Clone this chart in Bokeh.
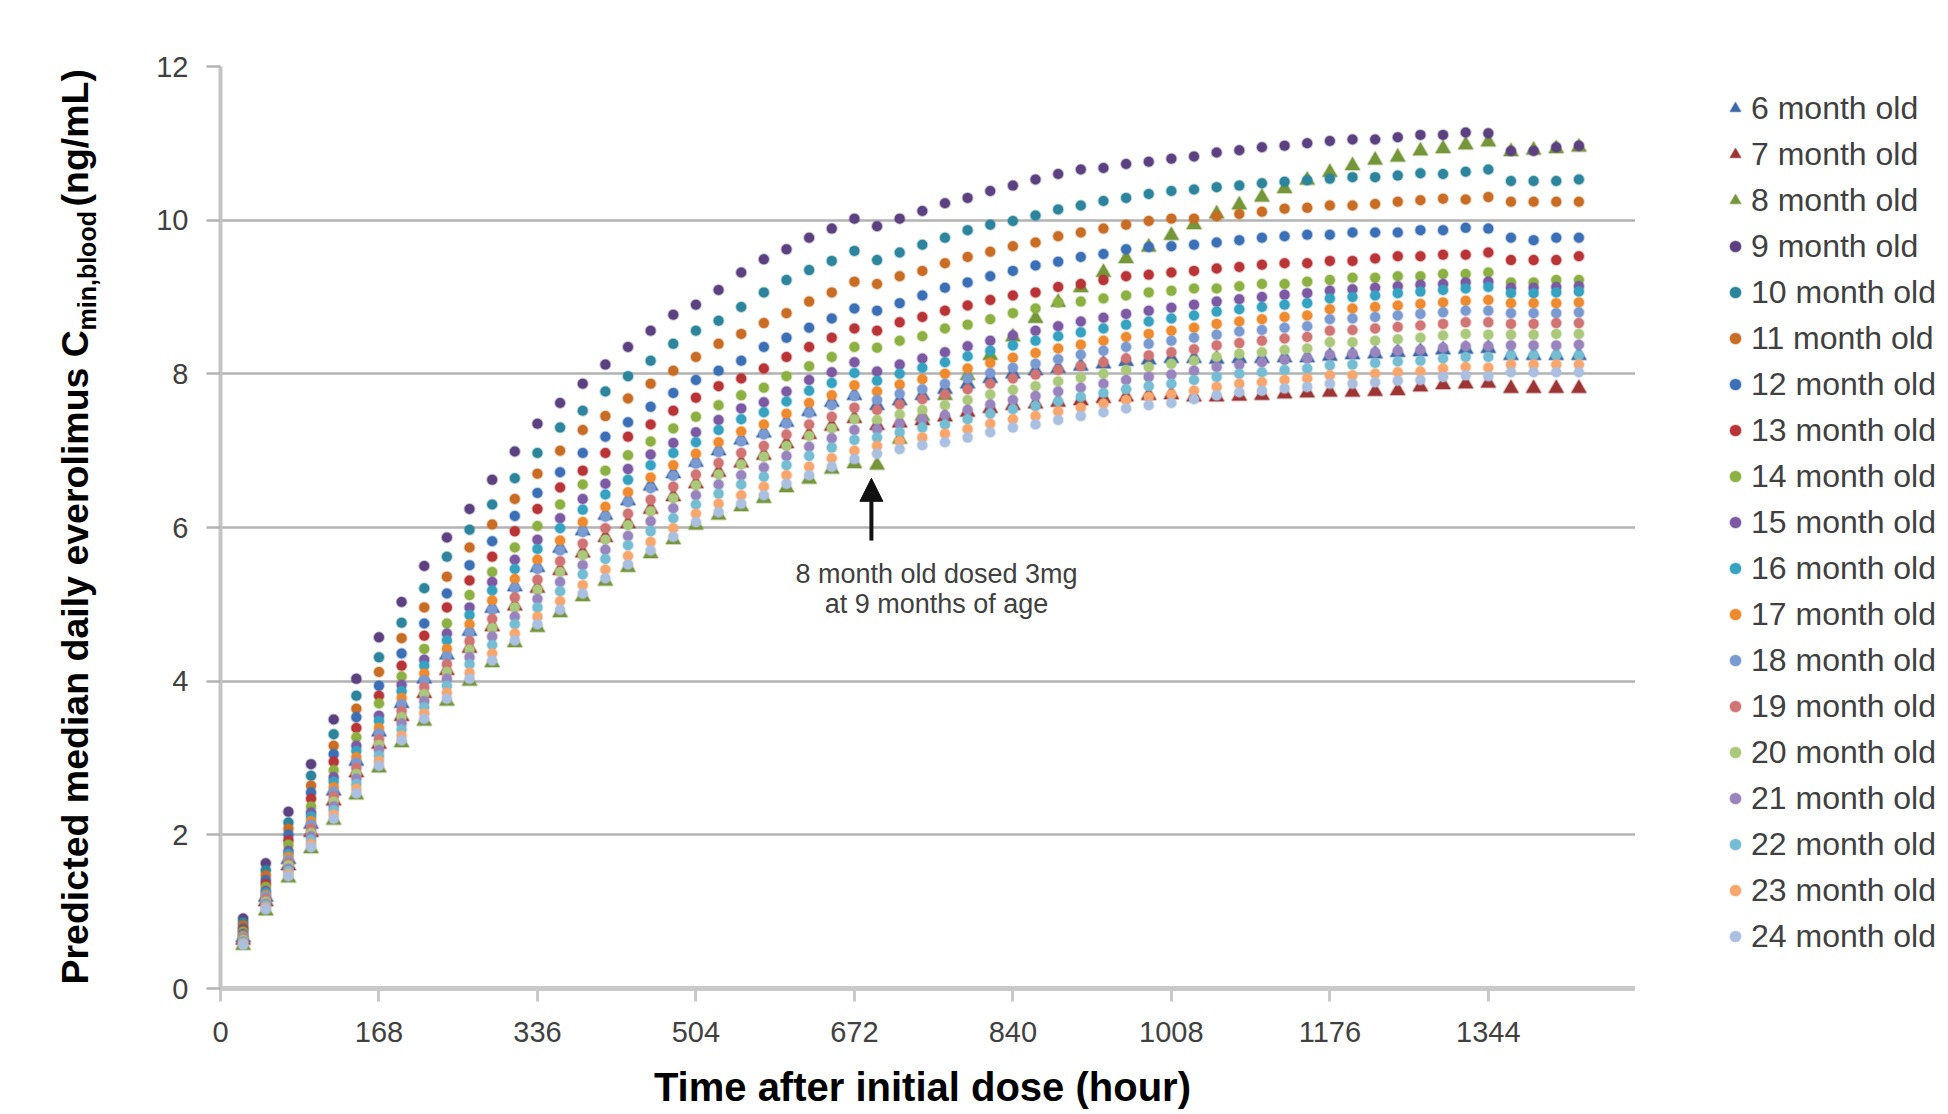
import math
from bokeh.plotting import figure
from bokeh.layouts import row
from bokeh.models import (Range1d, FixedTicker, Legend, LegendItem, Label,
                          Arrow, NormalHead)
from bokeh.core.properties import value
from bokeh.embed import file_html
from bokeh.resources import INLINE

# ---------------- data ----------------
hours = list(range(24, 1441, 24))          # daily trough samples, 24 h .. 1440 h
x_ticks = [0, 168, 336, 504, 672, 840, 1008, 1176, 1344]
y_ticks = [0, 2, 4, 6, 8, 10, 12]

m6 = [0.66, 1.19, 1.68, 2.14, 2.57, 2.96, 3.34, 3.71, 4.03, 4.34,
      4.65, 4.95, 5.23, 5.48, 5.73, 5.96, 6.16, 6.35, 6.54, 6.70,
      6.85, 7.00, 7.14, 7.23, 7.37, 7.51, 7.63, 7.72,
      7.59, 7.65, 7.72, 7.80, 7.87, 7.94, 8.00, 8.04, 8.07, 8.10,
      8.13, 8.16, 8.18, 8.20, 8.20, 8.19, 8.20, 8.20, 8.21, 8.21,
      8.23, 8.25, 8.26, 8.28, 8.29, 8.31, 8.32, 8.33, 8.24, 8.24, 8.24, 8.24]
m7 = [0.63, 1.13, 1.60, 2.03, 2.44, 2.81, 3.18, 3.54, 3.84, 4.14,
      4.43, 4.71, 4.98, 5.21, 5.44, 5.67, 5.87, 6.05, 6.24, 6.40,
      6.57, 6.72, 6.84, 6.94, 7.09, 7.21, 7.32, 7.42,
      7.33, 7.36, 7.39, 7.44, 7.50, 7.55, 7.59, 7.61, 7.63, 7.65,
      7.68, 7.70, 7.72, 7.73, 7.70, 7.70, 7.71, 7.72, 7.74, 7.75,
      7.76, 7.76, 7.77, 7.78, 7.83, 7.86, 7.87, 7.88, 7.81, 7.81, 7.81, 7.81]
m8 = [0.56, 1.01, 1.44, 1.82, 2.19, 2.52, 2.87, 3.20, 3.48, 3.74,
      4.00, 4.24, 4.50, 4.70, 4.89, 5.10, 5.30, 5.48, 5.66, 5.84,
      6.03, 6.16, 6.27, 6.38, 6.52, 6.63, 6.76, 6.83,
      6.81, 7.15, 7.45, 7.72, 7.98, 8.24, 8.48, 8.72, 8.93, 9.12,
      9.32, 9.50, 9.65, 9.80, 9.94, 10.08, 10.20, 10.30, 10.41, 10.52,
      10.62, 10.71, 10.78, 10.82, 10.90, 10.93, 10.98, 11.02, 10.89, 10.91, 10.93, 10.95]
m9 = [0.91, 1.63, 2.30, 2.92, 3.50, 4.03, 4.57, 5.03, 5.50, 5.87,
      6.24, 6.62, 6.99, 7.35, 7.62, 7.87, 8.12, 8.35, 8.56, 8.77,
      8.90, 9.09, 9.32, 9.49, 9.62, 9.77, 9.89, 10.02,
      9.92, 10.02, 10.12, 10.22, 10.29, 10.38, 10.45, 10.53, 10.60, 10.66,
      10.68, 10.73, 10.76, 10.80, 10.83, 10.88, 10.91, 10.95, 10.97, 11.00,
      11.03, 11.05, 11.05, 11.08, 11.11, 11.11, 11.14, 11.13, 10.90, 10.90, 10.95, 10.97]
m10 = [0.86, 1.54, 2.16, 2.77, 3.31, 3.81, 4.31, 4.76, 5.21, 5.62,
       5.97, 6.30, 6.64, 6.97, 7.30, 7.52, 7.77, 7.97, 8.17, 8.39,
       8.56, 8.69, 8.87, 9.06, 9.22, 9.35, 9.47, 9.60,
       9.48, 9.58, 9.68, 9.77, 9.87, 9.94, 9.99, 10.06, 10.14, 10.19,
       10.25, 10.29, 10.34, 10.38, 10.40, 10.43, 10.45, 10.48, 10.50, 10.52,
       10.54, 10.56, 10.56, 10.58, 10.61, 10.60, 10.63, 10.66, 10.51, 10.51, 10.51, 10.53]
m11 = [0.82, 1.47, 2.08, 2.64, 3.16, 3.64, 4.12, 4.56, 4.96, 5.36,
       5.74, 6.04, 6.37, 6.70, 7.00, 7.27, 7.45, 7.68, 7.87, 8.04,
       8.22, 8.39, 8.52, 8.66, 8.79, 8.94, 9.06, 9.20,
       9.17, 9.27, 9.34, 9.44, 9.52, 9.59, 9.66, 9.71, 9.79, 9.84,
       9.89, 9.94, 9.99, 10.02, 10.02, 10.05, 10.08, 10.11, 10.15, 10.16,
       10.19, 10.19, 10.21, 10.24, 10.26, 10.28, 10.27, 10.30, 10.24, 10.24, 10.24, 10.24]
m12 = [0.78, 1.41, 2.00, 2.55, 3.05, 3.53, 3.94, 4.36, 4.75, 5.14,
       5.51, 5.82, 6.15, 6.45, 6.72, 6.97, 7.18, 7.37, 7.57, 7.75,
       7.92, 8.04, 8.17, 8.35, 8.47, 8.60, 8.72, 8.85,
       8.82, 8.92, 9.02, 9.12, 9.19, 9.27, 9.34, 9.41, 9.46, 9.52,
       9.56, 9.62, 9.65, 9.66, 9.68, 9.71, 9.74, 9.77, 9.79, 9.81,
       9.81, 9.84, 9.84, 9.84, 9.87, 9.87, 9.90, 9.89, 9.77, 9.74, 9.77, 9.77]
m13 = [0.76, 1.36, 1.93, 2.47, 2.95, 3.39, 3.81, 4.20, 4.59, 4.96,
       5.31, 5.62, 5.95, 6.24, 6.52, 6.74, 6.97, 7.18, 7.34, 7.52,
       7.69, 7.84, 7.94, 8.07, 8.22, 8.35, 8.47, 8.59,
       8.56, 8.67, 8.74, 8.82, 8.89, 8.96, 9.02, 9.06, 9.13, 9.17,
       9.22, 9.27, 9.29, 9.32, 9.34, 9.37, 9.39, 9.42, 9.44, 9.44,
       9.47, 9.47, 9.50, 9.53, 9.53, 9.55, 9.55, 9.58, 9.48, 9.48, 9.48, 9.53]
m14 = [0.74, 1.32, 1.87, 2.37, 2.84, 3.27, 3.71, 4.06, 4.42, 4.75,
       5.12, 5.42, 5.74, 6.02, 6.30, 6.56, 6.74, 6.94, 7.12, 7.29,
       7.44, 7.59, 7.72, 7.82, 7.97, 8.10, 8.22, 8.35,
       8.34, 8.43, 8.49, 8.59, 8.64, 8.71, 8.79, 8.85, 8.93, 8.94,
       8.98, 9.02, 9.06, 9.08, 9.11, 9.11, 9.14, 9.17, 9.17, 9.20,
       9.22, 9.25, 9.25, 9.27, 9.27, 9.30, 9.30, 9.32, 9.19, 9.19, 9.22, 9.22]
m15 = [0.71, 1.27, 1.79, 2.29, 2.75, 3.16, 3.55, 3.95, 4.28, 4.62,
       4.96, 5.29, 5.58, 5.84, 6.12, 6.37, 6.57, 6.76, 6.95, 7.10,
       7.24, 7.40, 7.55, 7.63, 7.77, 7.92, 8.02, 8.15,
       8.03, 8.12, 8.20, 8.28, 8.36, 8.43, 8.50, 8.56, 8.62, 8.68,
       8.73, 8.78, 8.82, 8.86, 8.90, 8.94, 8.97, 9.00, 9.03, 9.05,
       9.08, 9.10, 9.12, 9.14, 9.16, 9.17, 9.19, 9.20, 9.12, 9.12, 9.13, 9.14]
m16 = [0.69, 1.24, 1.75, 2.24, 2.69, 3.09, 3.48, 3.87, 4.20, 4.53,
       4.86, 5.18, 5.46, 5.72, 5.99, 6.23, 6.43, 6.62, 6.81, 6.97,
       7.11, 7.27, 7.41, 7.50, 7.64, 7.78, 7.88, 8.01,
       7.91, 8.00, 8.08, 8.15, 8.23, 8.30, 8.37, 8.43, 8.49, 8.54,
       8.59, 8.64, 8.68, 8.72, 8.76, 8.81, 8.84, 8.87, 8.90, 8.92,
       8.98, 9.00, 9.02, 9.05, 9.07, 9.09, 9.11, 9.13, 9.05, 9.05, 9.06, 9.07]
m17 = [0.68, 1.21, 1.71, 2.18, 2.62, 3.01, 3.39, 3.78, 4.10, 4.42,
       4.74, 5.05, 5.33, 5.58, 5.83, 6.07, 6.27, 6.46, 6.65, 6.81,
       6.96, 7.11, 7.25, 7.34, 7.48, 7.62, 7.72, 7.85,
       7.77, 7.86, 7.93, 8.00, 8.07, 8.14, 8.21, 8.27, 8.33, 8.38,
       8.43, 8.48, 8.52, 8.56, 8.60, 8.65, 8.68, 8.71, 8.74, 8.76,
       8.84, 8.85, 8.87, 8.89, 8.91, 8.93, 8.95, 8.96, 8.92, 8.92, 8.92, 8.93]
m18 = [0.66, 1.19, 1.67, 2.13, 2.56, 2.94, 3.32, 3.70, 4.01, 4.32,
       4.63, 4.93, 5.21, 5.46, 5.70, 5.94, 6.14, 6.33, 6.51, 6.67,
       6.83, 6.98, 7.12, 7.21, 7.35, 7.49, 7.59, 7.71,
       7.66, 7.74, 7.80, 7.87, 7.94, 8.01, 8.08, 8.13, 8.19, 8.25,
       8.30, 8.35, 8.39, 8.43, 8.47, 8.51, 8.55, 8.57, 8.60, 8.62,
       8.71, 8.72, 8.74, 8.76, 8.78, 8.80, 8.82, 8.82, 8.79, 8.79, 8.79, 8.80]
m19 = [0.64, 1.16, 1.63, 2.08, 2.50, 2.87, 3.24, 3.61, 3.92, 4.22,
       4.52, 4.81, 5.09, 5.32, 5.56, 5.79, 5.99, 6.18, 6.36, 6.53,
       6.69, 6.84, 6.97, 7.06, 7.21, 7.34, 7.44, 7.56,
       7.53, 7.60, 7.67, 7.73, 7.80, 7.87, 7.94, 7.99, 8.05, 8.10,
       8.15, 8.20, 8.24, 8.28, 8.32, 8.37, 8.40, 8.43, 8.46, 8.48,
       8.56, 8.57, 8.59, 8.61, 8.63, 8.65, 8.67, 8.67, 8.65, 8.65, 8.66, 8.66]
m20 = [0.63, 1.13, 1.60, 2.02, 2.43, 2.79, 3.17, 3.53, 3.83, 4.12,
       4.41, 4.69, 4.96, 5.19, 5.42, 5.64, 5.84, 6.03, 6.21, 6.38,
       6.55, 6.69, 6.82, 6.92, 7.06, 7.19, 7.29, 7.41,
       7.40, 7.47, 7.53, 7.59, 7.66, 7.73, 7.79, 7.84, 7.90, 7.95,
       8.00, 8.05, 8.09, 8.13, 8.17, 8.22, 8.26, 8.28, 8.31, 8.33,
       8.41, 8.41, 8.43, 8.45, 8.47, 8.50, 8.52, 8.51, 8.51, 8.51, 8.52, 8.52]
m21 = [0.61, 1.10, 1.56, 1.98, 2.37, 2.73, 3.10, 3.45, 3.74, 4.03,
       4.31, 4.58, 4.84, 5.07, 5.29, 5.51, 5.71, 5.89, 6.08, 6.25,
       6.42, 6.56, 6.68, 6.78, 6.93, 7.05, 7.16, 7.27,
       7.28, 7.35, 7.41, 7.46, 7.53, 7.60, 7.66, 7.71, 7.77, 7.82,
       7.87, 7.92, 7.96, 7.99, 8.04, 8.09, 8.12, 8.15, 8.18, 8.20,
       8.25, 8.26, 8.28, 8.30, 8.31, 8.34, 8.36, 8.36, 8.37, 8.37, 8.37, 8.38]
m22 = [0.60, 1.08, 1.53, 1.93, 2.32, 2.66, 3.03, 3.37, 3.66, 3.94,
       4.22, 4.47, 4.74, 4.96, 5.17, 5.39, 5.59, 5.77, 5.95, 6.12,
       6.30, 6.44, 6.56, 6.66, 6.81, 6.93, 7.04, 7.14,
       7.17, 7.24, 7.30, 7.34, 7.41, 7.48, 7.54, 7.58, 7.64, 7.70,
       7.75, 7.80, 7.84, 7.87, 7.92, 7.96, 8.00, 8.02, 8.05, 8.07,
       8.11, 8.12, 8.14, 8.16, 8.17, 8.20, 8.22, 8.22, 8.24, 8.24, 8.24, 8.24]
m23 = [0.58, 1.05, 1.49, 1.88, 2.26, 2.60, 2.96, 3.29, 3.58, 3.85,
       4.11, 4.36, 4.62, 4.84, 5.04, 5.25, 5.45, 5.63, 5.81, 5.99,
       6.18, 6.31, 6.42, 6.53, 6.68, 6.79, 6.90, 7.00,
       7.06, 7.12, 7.17, 7.22, 7.28, 7.35, 7.41, 7.45, 7.51, 7.56,
       7.61, 7.66, 7.70, 7.73, 7.78, 7.83, 7.87, 7.89, 7.92, 7.94,
       7.98, 7.98, 8.00, 8.02, 8.03, 8.07, 8.09, 8.08, 8.12, 8.12, 8.12, 8.12]
m24 = [0.57, 1.03, 1.46, 1.84, 2.21, 2.54, 2.90, 3.23, 3.51, 3.77,
       4.03, 4.27, 4.53, 4.74, 4.93, 5.14, 5.34, 5.52, 5.70, 5.88,
       6.07, 6.20, 6.31, 6.42, 6.57, 6.68, 6.79, 6.89,
       6.96, 7.02, 7.07, 7.11, 7.17, 7.24, 7.30, 7.34, 7.40, 7.45,
       7.50, 7.55, 7.59, 7.62, 7.67, 7.72, 7.76, 7.78, 7.81, 7.83,
       7.87, 7.87, 7.89, 7.91, 7.92, 7.96, 7.98, 7.97, 8.02, 8.02, 8.02, 8.02]

series_names = ["6 month old", "7 month old", "8 month old", "9 month old",
                "10 month old", "11 month old", "12 month old", "13 month old",
                "14 month old", "15 month old", "16 month old", "17 month old",
                "18 month old", "19 month old", "20 month old", "21 month old",
                "22 month old", "23 month old", "24 month old"]
series_values = [m6, m7, m8, m9, m10, m11, m12, m13, m14, m15, m16, m17,
                 m18, m19, m20, m21, m22, m23, m24]

x_title = "Time after initial  dose (hour)"
y_title_main = "Predicted median daily everolimus C"
y_title_sub = "min,blood"
y_title_unit = "(ng/mL)"
note_line1 = "8 month old dosed 3mg"
note_line2 = "at 9 months of age"

# ---------------- styling ----------------
colors = ["#3C67A5", "#9C3533", "#76963A", "#5C4180", "#2C859C", "#C96C24",
          "#3B6FB6", "#B93436", "#8CB142", "#7C59A2", "#35A2C2", "#EF8A2E",
          "#7A9BD1", "#D07474", "#ABC97B", "#9A84BE", "#74BDD3", "#F9A66D",
          "#ABBFE0"]
markers = ["triangle"] * 3 + ["circle"] * 16
sizes = [15, 15, 15] + [10] * 16
FONT = "Liberation Sans"
H = 1112
TOP, BOTTOM = 66, 124            # frame spans page y 66 .. 988 in every panel


def bare(width, xr, yr):
    f = figure(width=width, height=H, output_backend="svg", toolbar_location=None,
               x_range=xr, y_range=yr, x_axis_type=None, y_axis_type=None,
               min_border_left=0, min_border_right=0,
               min_border_top=TOP, min_border_bottom=BOTTOM)
    f.outline_line_color = None
    f.grid.visible = False
    return f


# ---- main plot ----
p = figure(width=1507, height=H, output_backend="svg", toolbar_location=None,
           x_range=Range1d(0, 1500), y_range=Range1d(0, 12),
           min_border_left=92, min_border_right=0,
           min_border_top=TOP, min_border_bottom=BOTTOM)
p.outline_line_color = None
p.background_fill_color = "white"
p.border_fill_color = "white"

p.xaxis.ticker = FixedTicker(ticks=x_ticks)
p.yaxis.ticker = FixedTicker(ticks=y_ticks)
for ax in (p.xaxis[0], p.yaxis[0]):
    ax.major_label_text_font = FONT
    ax.major_label_text_font_size = "29px"
    ax.major_label_text_color = "#404040"
    ax.minor_tick_line_color = None
    ax.major_tick_in = 0
p.xaxis.axis_line_color = "#c9c9c9"
p.xaxis.axis_line_width = 5
p.xaxis.major_tick_out = 13
p.xaxis.major_tick_line_color = "#c9c9c9"
p.xaxis.major_tick_line_width = 3
p.xaxis.major_label_standoff = 20
p.xaxis.axis_label = x_title
p.xaxis.axis_label_text_font = FONT
p.xaxis.axis_label_text_font_size = "40px"
p.xaxis.axis_label_text_font_style = "bold"
p.xaxis.axis_label_text_color = "#000000"
p.xaxis.axis_label_standoff = 20
p.yaxis.axis_line_color = "#c4c4c4"
p.yaxis.axis_line_width = 4
p.yaxis.major_tick_out = 14
p.yaxis.major_tick_line_color = "#b3b3b3"
p.yaxis.major_tick_line_width = 2.5
p.yaxis.major_label_standoff = 18

p.xgrid.visible = False
p.ygrid.ticker = FixedTicker(ticks=y_ticks)
p.ygrid.grid_line_color = "#b3b3b3"
p.ygrid.grid_line_width = 2.5

for vals, col, mk, sz in zip(series_values, colors, markers, sizes):
    n = min(len(hours), len(vals))
    p.scatter(hours[:n], vals[:n], marker=mk, size=sz,
              fill_color=col, line_color=col, line_alpha=0.35, line_width=2)

p.add_layout(Arrow(x_start=690, y_start=5.83, x_end=690, y_end=6.64,
                   line_color="#111111", line_width=4,
                   end=NormalHead(size=23, fill_color="#111111",
                                  line_color="#111111", line_width=1)))
p.add_layout(Label(x=759, y=5.40, text=note_line1,
                   text_font=FONT, text_font_size="27px", text_color="#404040",
                   text_align="center", text_baseline="alphabetic"))
p.add_layout(Label(x=759, y=5.01, text=note_line2,
                   text_font=FONT, text_font_size="27px", text_color="#404040",
                   text_align="center", text_baseline="alphabetic"))

# ---- vertical axis title panel (frame coordinates: y = 988 - page_y) ----
yt = bare(128, Range1d(0, 128), Range1d(0, 922))
ang = math.pi / 2
yt.text(x=[74], y=[4], text=[y_title_main], angle=ang,
        text_font=value(FONT), text_font_size=value("37.5px"),
        text_font_style="bold", text_color="#000000",
        text_align="left", text_baseline="middle")
yt.text(x=[86], y=[658], text=[y_title_sub], angle=ang,
        text_font=value(FONT), text_font_size=value("25px"),
        text_font_style="bold", text_color="#000000",
        text_align="left", text_baseline="middle")
yt.text(x=[74], y=[782], text=[y_title_unit], angle=ang,
        text_font=value(FONT), text_font_size=value("37.5px"),
        text_font_style="bold", text_color="#000000",
        text_align="left", text_baseline="middle")

# ---- legend panel (its renderers carry the same series; they fall outside
#      this panel's ranges, so only the legend swatches are seen) ----
lf = bare(305, Range1d(-2, -1), Range1d(-2, -1))
items = []
for name, vals, col, mk in zip(series_names, series_values, colors, markers):
    n = min(len(hours), len(vals))
    r = lf.scatter(hours[:n], vals[:n], marker=mk, size=10,
                   fill_color=col, line_color=col, line_alpha=0.35, line_width=1.5)
    items.append(LegendItem(label=name, renderers=[r]))
legend = Legend(items=items, location=(86, 29),
                glyph_width=28, glyph_height=46, label_height=46,
                label_standoff=2, spacing=0, padding=0, margin=0,
                label_text_font=FONT, label_text_font_size="32px",
                label_text_color="#404040", label_text_baseline="middle",
                background_fill_alpha=0, border_line_alpha=0)
lf.add_layout(legend)

layout = row(yt, p, lf, spacing=0)
open("out.html", "w").write(file_html(layout, INLINE))
